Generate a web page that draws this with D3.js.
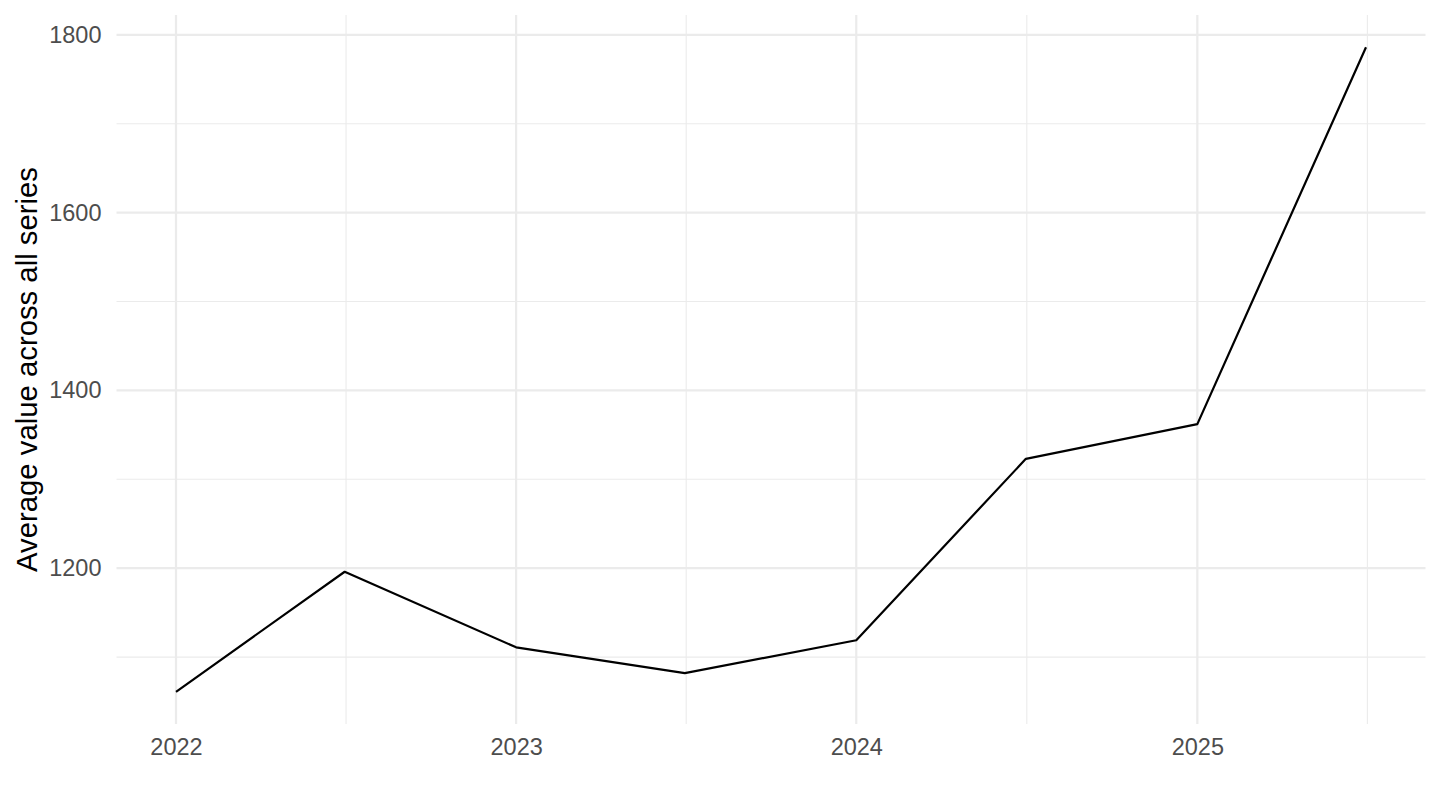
<!DOCTYPE html>
<html>
<head>
<meta charset="utf-8">
<script src="https://cdn.jsdelivr.net/npm/d3@7"></script>
<style>
  body { margin: 0; background: #fff; }
  text { font-family: "Liberation Sans", Arial, sans-serif; }
</style>
</head>
<body>
<div id="chart"></div>
<script>
// data
const periods = ["2022-01-01", "2022-07-01", "2023-01-01", "2023-07-01",
                 "2024-01-01", "2024-07-01", "2025-01-01", "2025-07-01"];
const avgValues = [1061, 1196, 1111, 1082, 1119, 1323, 1362, 1786];
const yTicks = [1200, 1400, 1600, 1800];
const yMinor = [1100, 1300, 1500, 1700];
const xTickYears = [2022, 2023, 2024, 2025];
const yTitle = "Average value across all series";

const width = 1440, height = 810;
const margin = {top: 15, right: 14.5, bottom: 86, left: 116.5};

const parse = d3.timeParse("%Y-%m-%d");
const data = periods.map((p, i) => ({date: parse(p), value: avgValues[i]}));

const svg = d3.select("#chart").append("svg")
    .attr("width", width)
    .attr("height", height);

// scales, with ggplot-like 5% expansion
const xExt = d3.extent(data, d => d.date);
const xPad = (xExt[1] - xExt[0]) * 0.05;
const x = d3.scaleTime()
    .domain([new Date(+xExt[0] - xPad), new Date(+xExt[1] + xPad)])
    .range([margin.left, width - margin.right]);

const yExt = d3.extent(data, d => d.value);
const yPad = (yExt[1] - yExt[0]) * 0.05;
const y = d3.scaleLinear()
    .domain([yExt[0] - yPad, yExt[1] + yPad])
    .range([height - margin.bottom, margin.top]);

const xMajor = xTickYears.map(yr => new Date(yr, 0, 1));
// minor breaks halfway between major ones
const xMinorDates = xTickYears.map(yr => new Date((+new Date(yr, 0, 1) + +new Date(yr + 1, 0, 1)) / 2));

const grid = svg.append("g").attr("class", "grid");

// minor grid
grid.selectAll(".ymin").data(yMinor).join("line")
    .attr("x1", margin.left).attr("x2", width - margin.right)
    .attr("y1", d => y(d)).attr("y2", d => y(d))
    .attr("stroke", "#ebebeb").attr("stroke-width", 1.1);
grid.selectAll(".xmin").data(xMinorDates).join("line")
    .attr("x1", d => x(d)).attr("x2", d => x(d))
    .attr("y1", margin.top).attr("y2", height - margin.bottom)
    .attr("stroke", "#ebebeb").attr("stroke-width", 1.1);

// major grid
grid.selectAll(".ymaj").data(yTicks).join("line")
    .attr("x1", margin.left).attr("x2", width - margin.right)
    .attr("y1", d => y(d)).attr("y2", d => y(d))
    .attr("stroke", "#ebebeb").attr("stroke-width", 2.2);
grid.selectAll(".xmaj").data(xMajor).join("line")
    .attr("x1", d => x(d)).attr("x2", d => x(d))
    .attr("y1", margin.top).attr("y2", height - margin.bottom)
    .attr("stroke", "#ebebeb").attr("stroke-width", 2.2);

// the line
svg.append("path")
    .datum(data)
    .attr("fill", "none")
    .attr("stroke", "#000")
    .attr("stroke-width", 2.2)
    .attr("stroke-linejoin", "round")
    .attr("d", d3.line()
        .x(d => x(d.date))
        .y(d => y(d.value)));

// axes, no domain line or ticks like theme_minimal
const xAxis = svg.append("g")
    .attr("transform", `translate(0,${height - margin.bottom})`)
    .call(d3.axisBottom(x).tickValues(xMajor).tickFormat(d3.timeFormat("%Y")).tickSize(0).tickPadding(14));
const yAxis = svg.append("g")
    .attr("transform", `translate(${margin.left},0)`)
    .call(d3.axisLeft(y).tickValues(yTicks).tickFormat(d3.format("d")).tickSize(0).tickPadding(15));

[xAxis, yAxis].forEach(a => {
    a.select(".domain").remove();
    a.selectAll("text")
        .attr("fill", "#4d4d4d")
        .style("font-size", "23.5px")
        .style("font-family", "'Liberation Sans', Arial, sans-serif");
});

// y axis title
svg.append("text")
    .attr("transform", `translate(37,${(margin.top + height - margin.bottom) / 2}) rotate(-90)`)
    .attr("text-anchor", "middle")
    .attr("fill", "#000")
    .style("font-size", "29.3px")
    .text(yTitle);
</script>
</body>
</html>
